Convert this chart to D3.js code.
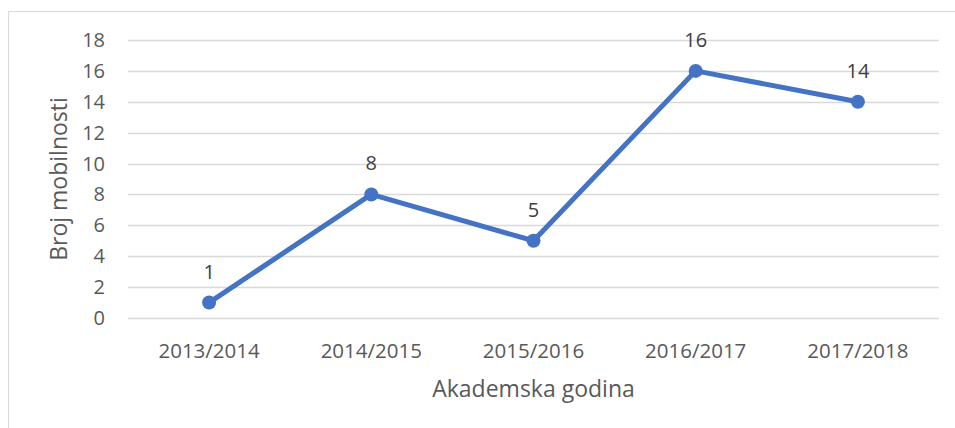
<!DOCTYPE html>
<html>
<head>
<meta charset="utf-8">
<script src="https://cdn.jsdelivr.net/npm/d3@7"></script>
<style>
  body { margin: 0; background: #fff; }
  svg text { font-family: "Open Sans", "Noto Sans", sans-serif; }
</style>
</head>
<body>
<div id="chart"></div>
<script>
// Academic years on the x axis
var years = ["2013/2014", "2014/2015", "2015/2016", "2016/2017", "2017/2018"];
// Number of mobilities per year
var mobilities = [1, 8, 5, 16, 14];
// Y tick values
var yTicks = [0, 2, 4, 6, 8, 10, 12, 14, 16, 18];

var width = 955, height = 428;
var plotLeft = 128, plotRight = 939, plotTop = 40, plotBottom = 318;

var svg = d3.select("#chart")
    .append("svg")
    .attr("width", width)
    .attr("height", height);

// Chart border (only top and left show in the frame)
svg.append("rect")
    .attr("x", 8.5)
    .attr("y", 11.5)
    .attr("width", 960)
    .attr("height", 430)
    .attr("fill", "none")
    .attr("stroke", "#d9d9d9");

var xScale = d3.scalePoint()
    .domain(years)
    .range([plotLeft, plotRight])
    .padding(0.5);

var yScale = d3.scaleLinear()
    .domain([0, 18])
    .range([plotBottom, plotTop]);

// Grid lines
svg.append("g")
    .selectAll("line")
    .data(yTicks)
    .join("line")
    .attr("x1", plotLeft)
    .attr("x2", plotRight)
    .attr("y1", function (d) { return Math.round(yScale(d)) + 0.5; })
    .attr("y2", function (d) { return Math.round(yScale(d)) + 0.5; })
    .attr("stroke", "#d9d9d9")
    .attr("stroke-width", 1.3);

// Y tick labels
svg.append("g")
    .selectAll("text")
    .data(yTicks)
    .join("text")
    .attr("x", 105)
    .attr("y", function (d) { return yScale(d); })
    .attr("dy", "0.35em")
    .attr("text-anchor", "end")
    .attr("font-size", 20)
    .attr("fill", "#595959")
    .text(function (d) { return d; });

// X tick labels
svg.append("g")
    .selectAll("text")
    .data(years)
    .join("text")
    .attr("x", function (d) { return xScale(d); })
    .attr("y", 351)
    .attr("dy", "0.35em")
    .attr("text-anchor", "middle")
    .attr("font-size", 20.5)
    .attr("fill", "#595959")
    .text(function (d) { return d; });

// Axis titles
svg.append("text")
    .attr("x", (plotLeft + plotRight) / 2)
    .attr("y", 389)
    .attr("dy", "0.35em")
    .attr("text-anchor", "middle")
    .attr("font-size", 23)
    .attr("fill", "#595959")
    .text("Akademska godina");

svg.append("text")
    .attr("transform", "translate(59," + ((plotTop + plotBottom) / 2) + ") rotate(-90)")
    .attr("dy", "0.35em")
    .attr("text-anchor", "middle")
    .attr("font-size", 23)
    .attr("fill", "#595959")
    .text("Broj mobilnosti");

var series = years.map(function (y, i) { return { year: y, value: mobilities[i] }; });

var line = d3.line()
    .x(function (d) { return xScale(d.year); })
    .y(function (d) { return yScale(d.value); });

svg.append("path")
    .datum(series)
    .attr("d", line)
    .attr("fill", "none")
    .attr("stroke", "#4472c4")
    .attr("stroke-width", 5)
    .attr("stroke-linejoin", "round");

svg.append("g")
    .selectAll("circle")
    .data(series)
    .join("circle")
    .attr("cx", function (d) { return xScale(d.year); })
    .attr("cy", function (d) { return yScale(d.value); })
    .attr("r", 7)
    .attr("fill", "#4472c4");

// Data labels
svg.append("g")
    .selectAll("text")
    .data(series)
    .join("text")
    .attr("x", function (d) { return xScale(d.year); })
    .attr("y", function (d) { return yScale(d.value) - 31; })
    .attr("dy", "0.35em")
    .attr("text-anchor", "middle")
    .attr("font-size", 20)
    .attr("fill", "#404040")
    .text(function (d) { return d.value; });
</script>
</body>
</html>
